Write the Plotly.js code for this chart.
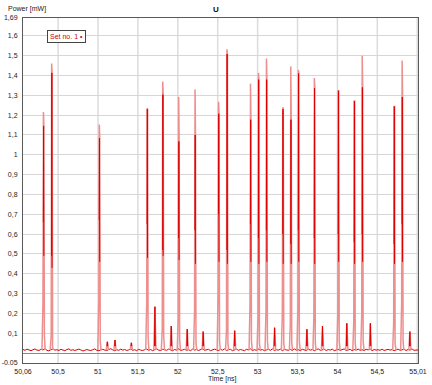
<!DOCTYPE html>
<html>
<head>
<meta charset="utf-8">
<script src="https://cdn.plot.ly/plotly-3.0.1.min.js"></script>
<style>html,body{margin:0;padding:0;background:#fff;}#chart{width:432px;height:385px;}</style>
</head>
<body>
<div id="chart"></div>
<script>
// ---- data ----
// baseline samples: start time and spacing, values in mW
const baseStart = 50.06;
const baseStep = 0.025;
const baseValues = [
0.018,0.014,0.020,0.016,0.012,0.017,0.021,0.015,0.013,0.019,0.016,0.022,0.014,0.011,0.018,0.020,0.015,0.017,0.013,0.019,
0.016,0.012,0.018,0.021,0.014,0.017,0.013,0.015,0.020,0.016,0.011,0.014,0.018,0.015,0.013,0.017,0.021,0.014,0.012,0.016,
0.019,0.015,0.013,0.018,0.022,0.016,0.012,0.017,0.014,0.020,0.015,0.018,0.013,0.016,0.021,0.014,0.017,0.012,0.019,0.015,
0.013,0.017,0.020,0.014,0.018,0.012,0.016,0.022,0.015,0.013,0.019,0.016,0.014,0.020,0.017,0.012,0.018,0.015,0.021,0.013,
0.016,0.019,0.014,0.017,0.012,0.020,0.015,0.018,0.013,0.016,0.022,0.014,0.017,0.019,0.012,0.015,0.020,0.016,0.013,0.018,
0.015,0.021,0.013,0.017,0.019,0.012,0.016,0.020,0.014,0.018,0.015,0.012,0.019,0.016,0.021,0.013,0.017,0.014,0.020,0.015,
0.018,0.012,0.016,0.019,0.014,0.021,0.013,0.017,0.015,0.020,0.012,0.018,0.016,0.014,0.019,0.013,0.021,0.015,0.017,0.012,
0.019,0.016,0.013,0.020,0.015,0.018,0.012,0.017,0.021,0.014,0.016,0.019,0.013,0.018,0.015,0.020,0.012,0.016,0.019,0.014,
0.017,0.021,0.013,0.016,0.019,0.012,0.018,0.015,0.020,0.014,0.017,0.013,0.019,0.016,0.021,0.012,0.018,0.015,0.017,0.014,
0.020,0.013,0.016,0.019,0.015,0.018,0.012,0.017,0.020,0.014,0.016,0.019,0.013,0.018,0.015,0.021,0.014,0.017,0.016
];
// main pulses: centre time [ns], top value, second value, rising shoulder, falling shoulder
const peakTimes   = [50.318,50.421,51.018,51.618,51.813,52.013,52.218,52.513,52.618,52.913,53.013,53.113,53.318,53.418,53.513,53.713,54.013,54.213,54.313,54.713,54.813];
const peakTop     = [1.216, 1.460, 1.153, 1.236, 1.370, 1.291, 1.330, 1.268, 1.532, 1.359, 1.413, 1.486, 1.240, 1.446, 1.428, 1.387, 1.323, 1.271, 1.500, 1.244, 1.475];
const peakSecond  = [1.146, 1.413, 1.084, 1.230, 1.303, 1.067, 1.100, 1.207, 1.508, 1.177, 1.379, 1.379, 1.230, 1.177, 1.410, 1.337, 1.323, 1.271, 1.340, 1.244, 1.291];
const peakRise    = [0.260, 0.090, 0.270, 0.250, 0.120, 0.180, 0.220, 0.300, 0.120, 0.250, 0.180, 0.220, 0.200, 0.150, 0.220, 0.180, 0.200, 0.160, 0.200, 0.150, 0.250];
const peakFall    = [0.090, 0.030, 0.060, 0.080, 0.090, 0.070, 0.050, 0.060, 0.050, 0.060, 0.050, 0.060, 0.050, 0.050, 0.060, 0.050, 0.060, 0.050, 0.060, 0.050, 0.060];
// small side pulses
const smallTimes  = [51.117,51.213,51.418,51.713,51.918,52.118,52.318,52.713,53.213,53.618,53.813,54.118,54.413,54.908];
const smallValues = [0.057, 0.066, 0.052, 0.234, 0.136, 0.121, 0.108, 0.113, 0.128, 0.120, 0.136, 0.150, 0.150, 0.108];
// axis ticks
const xTickVals = [50.06,50.5,51,51.5,52,52.5,53,53.5,54,54.5,55.01];
const xTickText = ['50,06','50,5','51','51,5','52','52,5','53','53,5','54','54,5','55,01'];
const yTickVals = [-0.05,0.1,0.2,0.3,0.4,0.5,0.6,0.7,0.8,0.9,1,1.1,1.2,1.3,1.4,1.5,1.6,1.69];
const yTickText = ['-0.05','0,1','0,2','0,3','0,4','0,5','0,6','0,7','0,8','0,9','1','1,1','1,2','1,3','1,4','1,5','1,6','1,69'];
const xGridVals = [50.5,51,51.5,52,52.5,53,53.5,54,54.5,55];

// ---- build the pulse paths ----
const b = 0.015;
const wx = [], wy = [];   // wide light stroke reaching the top value
const nx = [], ny = [];   // narrow dark stroke reaching the second value
peakTimes.forEach((t,i)=>{
  wx.push(t-0.02, t-0.008, t-0.002, t+0.004, t+0.01, t+0.02, null);
  wy.push(b, peakRise[i], peakTop[i], peakSecond[i], peakFall[i], b, null);
  nx.push(t-0.003, t, t+0.003, null);
  ny.push(peakRise[i]+0.4, peakSecond[i], peakFall[i]+0.4, null);
});
smallTimes.forEach((t,i)=>{
  wx.push(t-0.014, t, t+0.014, null);
  wy.push(b, smallValues[i], b, null);
  nx.push(t-0.005, t, t+0.005, null);
  ny.push(b+0.02, smallValues[i], b+0.02, null);
});

const traces = [
  {type:'scatter', mode:'lines', x0: baseStart, dx: baseStep, y: baseValues,
   line:{color:'#dc0000', width:1}, hoverinfo:'skip', showlegend:false},
  {type:'scatter', mode:'lines', x: wx, y: wy, connectgaps:false,
   line:{color:'#ee8f8f', width:1.5}, hoverinfo:'skip', showlegend:false},
  {type:'scatter', mode:'lines', x: nx, y: ny, connectgaps:false,
   line:{color:'#dd0000', width:1}, hoverinfo:'skip', showlegend:false}
];

const tickFont = {family:'Liberation Sans, Arial, sans-serif', size:7, color:'#222'};
const layout = {
  width:432, height:385,
  margin:{l:23, r:14, t:18, b:22, pad:0},
  paper_bgcolor:'#fff', plot_bgcolor:'#fff',
  showlegend:false,
  xaxis:{range:[50.06,55.01], tickmode:'array', tickvals:xTickVals, ticktext:xTickText,
         showgrid:false, zeroline:false, showline:true, mirror:true, linecolor:'#5a5a5a', linewidth:1,
         ticks:'', tickfont:tickFont, ticklabelstandoff:2},
  yaxis:{range:[-0.05,1.69], tickmode:'array', tickvals:yTickVals, ticktext:yTickText,
         showgrid:true, gridcolor:'#d6d6d6', gridwidth:1,
         zeroline:true, zerolinecolor:'#8a8a8a', zerolinewidth:1,
         showline:true, mirror:true, linecolor:'#5a5a5a', linewidth:1,
         ticks:'', tickfont:tickFont, ticklabelstandoff:3},
  shapes: xGridVals.map(v=>({type:'line', xref:'x', yref:'paper', x0:v, x1:v, y0:0, y1:1,
         line:{color:'#dcdcdc', width:1.5}, layer:'below'})),
  annotations:[
    {text:'Power [mW]', xref:'paper', yref:'paper', x:-0.042, y:1.025, xanchor:'left', yanchor:'middle',
     showarrow:false, font:{family:'Liberation Sans, Arial, sans-serif', size:7, color:'#222'}},
    {text:'<b>U</b>', xref:'paper', yref:'paper', x:0.4886, y:1.025, xanchor:'center', yanchor:'middle',
     showarrow:false, font:{family:'Liberation Sans, Arial, sans-serif', size:8, color:'#111'}},
    {text:'Time [ns]', xref:'paper', yref:'paper', x:0.504, y:-0.046, xanchor:'center', yanchor:'middle',
     showarrow:false, font:{family:'Liberation Sans, Arial, sans-serif', size:7, color:'#222'}},
    {text:'Set no. 1 •', xref:'paper', yref:'paper', x:0.0613, y:0.947, xanchor:'left', yanchor:'middle',
     showarrow:false, bgcolor:'#fff', bordercolor:'#444', borderwidth:1, borderpad:2,
     font:{family:'Liberation Sans, Arial, sans-serif', size:7, color:'#d00000'}}
  ]
};
Plotly.newPlot('chart', traces, layout, {displayModeBar:false, staticPlot:true});
</script>
</body>
</html>
